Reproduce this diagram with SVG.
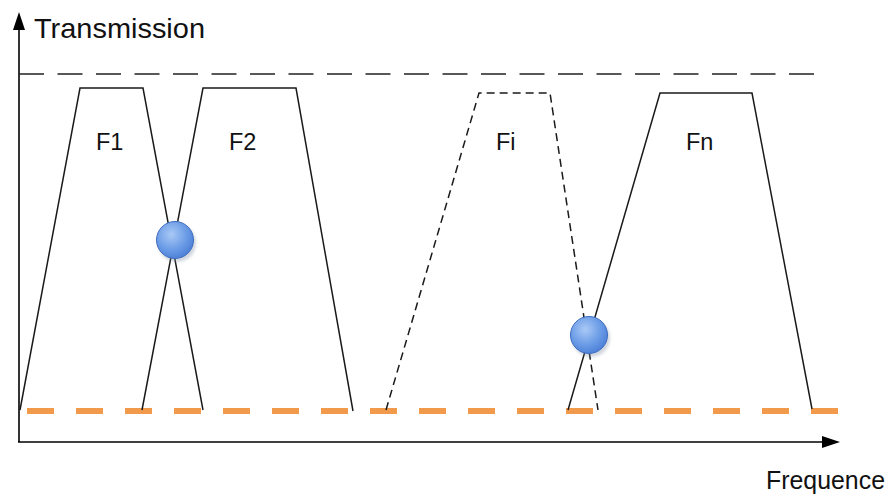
<svg xmlns="http://www.w3.org/2000/svg" width="889" height="496" viewBox="0 0 889 496">
<defs>
<style>
.ax{stroke:#000;stroke-width:1.6;fill:none}
.edge{stroke:#1a1a1a;stroke-width:1.5;fill:none;stroke-linejoin:miter}
.dash{stroke-dasharray:8 5}
.lbl{font-family:"Liberation Sans",Arial,sans-serif;fill:#111}
.dot{fill:url(#blue);stroke:#3d6cc0;stroke-width:1}
</style>
<radialGradient id="blue" cx="0.4" cy="0.35" r="0.7">
<stop offset="0" stop-color="#a9c9f5"/>
<stop offset="0.6" stop-color="#6a9be6"/>
<stop offset="1" stop-color="#4a7ed6"/>
</radialGradient>
<filter id="sh" x="-0.5" y="-0.5" width="2" height="2">
<feGaussianBlur stdDeviation="1.5"/>
</filter>
</defs>
<rect width="889" height="496" fill="#fff"/>
<g id="axes">
<line class="ax" x1="19" y1="442" x2="19" y2="28"/>
<polygon points="19,12 13,30 25,30" fill="#000"/>
<line class="ax" x1="18" y1="442" x2="824" y2="442"/>
<polygon points="840,442 822,436 822,448" fill="#000"/>
<text class="lbl" x="34" y="38" font-size="28.5" textLength="171" lengthAdjust="spacingAndGlyphs">Transmission</text>
<text class="lbl" x="766" y="489" font-size="26" textLength="119" lengthAdjust="spacingAndGlyphs">Frequence</text>
</g>
<g id="max-line">
<line x1="19" y1="74" x2="815" y2="74" stroke="#222" stroke-width="1.5" stroke-dasharray="25 13.5"/>
</g>
<g id="baseline">
<line x1="27" y1="414" x2="838" y2="414" stroke="#9cc3e6" stroke-width="6" stroke-dasharray="27 22" opacity="0.6" filter="url(#sh)"/>
<line x1="27" y1="411" x2="838" y2="411" stroke="#f29a4c" stroke-width="6" stroke-dasharray="27 22"/>
</g>
<g id="connectors">
<polyline id="F1-shape" class="edge" points="20,410 80,88 143,88 203,410"/>
<polyline id="F2-shape" class="edge" points="142,410 203,88 296,88 353,411"/>
<polyline id="Fi-shape" class="edge dash" points="386,410 479,93 550,93 598,410"/>
<polyline id="Fn-shape" class="edge" points="568,410 660,93 752,93 812,409"/>
</g>
<g id="F1"><text class="lbl" x="96" y="150" font-size="23.5">F1</text></g>
<g id="F2"><text class="lbl" x="229" y="150" font-size="23.5">F2</text></g>
<g id="Fi"><text class="lbl" x="496" y="150" font-size="23.5">Fi</text></g>
<g id="Fn"><text class="lbl" x="686" y="150" font-size="23.5">Fn</text></g>
<g id="dot1">
<circle cx="177" cy="243" r="19" fill="#7a8aa0" opacity="0.35" filter="url(#sh)"/>
<circle class="dot" cx="175" cy="240" r="18.5"/>
</g>
<g id="dot2">
<circle cx="591" cy="338" r="19" fill="#7a8aa0" opacity="0.35" filter="url(#sh)"/>
<circle class="dot" cx="589" cy="335" r="18.5"/>
</g>
</svg>
